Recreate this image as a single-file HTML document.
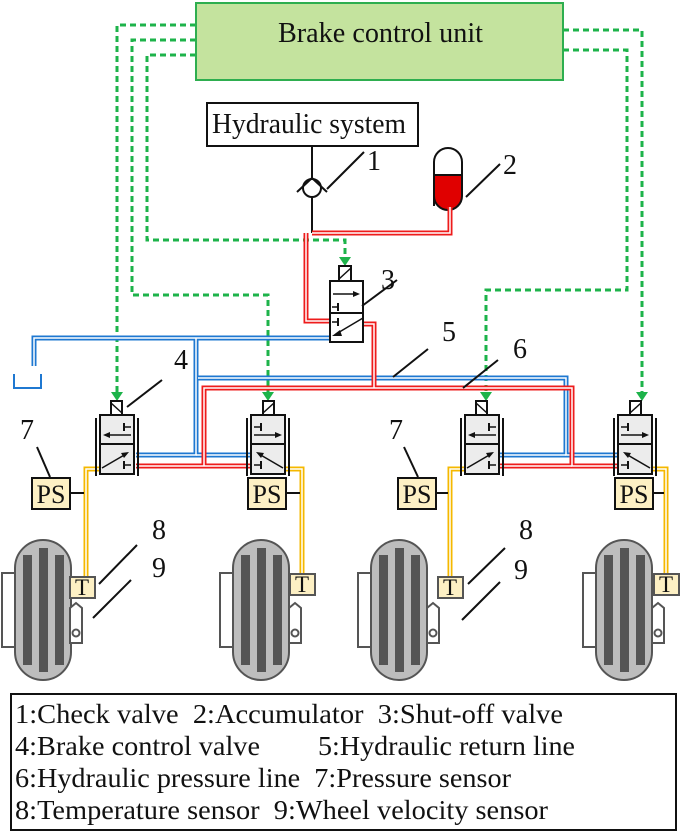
<!DOCTYPE html>
<html><head><meta charset="utf-8"><style>
html,body{margin:0;padding:0;background:#fff;}
svg{display:block;}
text{font-family:"Liberation Serif",serif;fill:#111;}
</style></head><body>
<svg width="685" height="836" viewBox="0 0 685 836" xmlns="http://www.w3.org/2000/svg">
<defs>
<g id="valveL">
  <rect x="0" y="0" width="34" height="59" fill="#ececec" stroke="#111" stroke-width="2"/>
  <line x1="0" y1="29" x2="34" y2="29" stroke="#111" stroke-width="2"/>
  <rect x="11" y="-14" width="11" height="14" fill="#fff" stroke="#111" stroke-width="2"/>
  <line x1="11" y1="-12" x2="22" y2="-2" stroke="#111" stroke-width="1.5"/>
  <line x1="-4" y1="3" x2="-4" y2="61" stroke="#111" stroke-width="2"/>
  <line x1="38" y1="3" x2="38" y2="61" stroke="#111" stroke-width="2"/>
  <line x1="24" y1="12" x2="31" y2="12" stroke="#111" stroke-width="1.5"/>
  <line x1="24" y1="8" x2="24" y2="16" stroke="#111" stroke-width="2"/>
  <line x1="31" y1="20" x2="6" y2="20" stroke="#111" stroke-width="1.5"/>
  <polygon points="3,20 10,17 10,23" fill="#111"/>
  <line x1="2" y1="53" x2="26" y2="39" stroke="#111" stroke-width="1.5"/>
  <polygon points="29,37 21,38 24,43" fill="#111"/>
  <line x1="24" y1="50" x2="31" y2="50" stroke="#111" stroke-width="1.5"/>
  <line x1="24" y1="46" x2="24" y2="54" stroke="#111" stroke-width="2"/>
</g>
<g id="valveR">
  <rect x="0" y="0" width="34" height="59" fill="#ececec" stroke="#111" stroke-width="2"/>
  <line x1="0" y1="29" x2="34" y2="29" stroke="#111" stroke-width="2"/>
  <rect x="12" y="-14" width="11" height="14" fill="#fff" stroke="#111" stroke-width="2"/>
  <line x1="12" y1="-2" x2="23" y2="-12" stroke="#111" stroke-width="1.5"/>
  <line x1="-4" y1="3" x2="-4" y2="61" stroke="#111" stroke-width="2"/>
  <line x1="38" y1="3" x2="38" y2="61" stroke="#111" stroke-width="2"/>
  <line x1="3" y1="12" x2="10" y2="12" stroke="#111" stroke-width="1.5"/>
  <line x1="10" y1="8" x2="10" y2="16" stroke="#111" stroke-width="2"/>
  <line x1="3" y1="20" x2="28" y2="20" stroke="#111" stroke-width="1.5"/>
  <polygon points="31,20 24,17 24,23" fill="#111"/>
  <line x1="32" y1="53" x2="8" y2="39" stroke="#111" stroke-width="1.5"/>
  <polygon points="5,37 13,38 10,43" fill="#111"/>
  <line x1="3" y1="50" x2="10" y2="50" stroke="#111" stroke-width="1.5"/>
  <line x1="10" y1="46" x2="10" y2="54" stroke="#111" stroke-width="2"/>
</g>
<g id="wheel">
  <rect x="-13" y="33" width="14" height="74" fill="#fff" stroke="#555" stroke-width="2"/>
  <rect x="0" y="0" width="56" height="140" rx="28" ry="28" fill="#bdbdbd" stroke="#555" stroke-width="2"/>
  <rect x="8" y="15" width="9" height="110" fill="#555"/>
  <rect x="24" y="8" width="9" height="124" fill="#555"/>
  <rect x="40" y="15" width="9" height="110" fill="#555"/>
</g>
</defs>

<g fill="none" stroke="#1db34a" stroke-width="3" stroke-dasharray="6,4">
  <polyline points="196,25 117,25 117,396"/>
  <polyline points="196,40 132,40 132,295 268,295 268,396"/>
  <polyline points="196,55 147,55 147,240 345,240 345,258"/>
  <polyline points="563,30 642,30 642,396"/>
  <polyline points="563,50 627,50 627,290 486,290 486,396"/>
</g>
<g fill="#1db34a">
  <polygon points="111,392 123,392 117,401"/>
  <polygon points="262,392 274,392 268,401"/>
  <polygon points="339,257 351,257 345,266"/>
  <polygon points="480,392 492,392 486,401"/>
  <polygon points="636,392 648,392 642,401"/>
</g>

<rect x="196" y="3" width="367" height="77" fill="#c4e39e" stroke="#2eae4f" stroke-width="2"/>
<text x="278" y="42" font-size="28" textLength="205" lengthAdjust="spacingAndGlyphs">Brake control unit</text>

<rect x="207" y="103" width="211" height="43" fill="#fff" stroke="#111" stroke-width="2"/>
<text x="212" y="133" font-size="28" textLength="194" lengthAdjust="spacingAndGlyphs">Hydraulic system</text>
<line x1="312" y1="146" x2="312" y2="233" stroke="#111" stroke-width="2"/>
<circle cx="312" cy="188" r="9" fill="#fff" stroke="#111" stroke-width="2"/>
<polyline points="297,192 312,178 327,192" fill="none" stroke="#111" stroke-width="2"/>
<line x1="327" y1="189" x2="364" y2="152" stroke="#111" stroke-width="2"/>
<text x="367" y="170" font-size="28">1</text>

<path d="M434,175 L462,175 L462,196 A14,14 0 0 1 434,196 Z" fill="#e00000"/>
<path d="M434,206 L434,162 A14,14 0 0 1 462,162 L462,196 A14,14 0 0 1 434,196 Z" fill="none" stroke="#111" stroke-width="2"/>
<line x1="434" y1="175" x2="462" y2="175" stroke="#111" stroke-width="2"/>
<line x1="466" y1="197" x2="500" y2="164" stroke="#111" stroke-width="2"/>
<text x="503" y="174" font-size="28">2</text>

<g fill="none" stroke-linejoin="miter">
  <g stroke="#1f78d1" stroke-width="5">
    <polyline points="330,338 34,338 34,366"/>
    <polyline points="196,338 196,455 136,455"/>
    <polyline points="196,455 250,455"/>
    <polyline points="198,378 566,378 566,455 617,455"/>
    <polyline points="498,455 566,455"/>
  </g>
  <g stroke="#fff" stroke-width="1.5">
    <polyline points="330,338 34,338 34,366"/>
    <polyline points="196,338 196,455 136,455"/>
    <polyline points="196,455 250,455"/>
    <polyline points="198,378 566,378 566,455 617,455"/>
    <polyline points="498,455 566,455"/>
  </g>
  <g stroke="#ee1c1c" stroke-width="5">
    <polyline points="312,233 450,233 450,207"/>
    <polyline points="306,233 306,321 330,321"/>
    <polyline points="363,324 374,324 374,388"/>
    <polyline points="204,466 204,388 572,388 572,466 617,466"/>
    <polyline points="136,466 250,466"/>
    <polyline points="498,466 572,466"/>
  </g>
  <g stroke="#fff" stroke-width="1.5">
    <polyline points="312,233 450,233 450,207"/>
    <polyline points="306,233 306,321 330,321"/>
    <polyline points="363,324 374,324 374,388"/>
    <polyline points="204,466 204,388 572,388 572,466 617,466"/>
    <polyline points="136,466 250,466"/>
    <polyline points="498,466 572,466"/>
  </g>
  <g stroke="#f5b800" stroke-width="5">
    <polyline points="100,469 86,469 86,577"/>
    <polyline points="286,469 302,469 302,574"/>
    <polyline points="465,469 450,469 450,577"/>
    <polyline points="651,469 666,469 666,574"/>
  </g>
  <g stroke="#fff" stroke-width="1.5">
    <polyline points="100,469 86,469 86,577"/>
    <polyline points="286,469 302,469 302,574"/>
    <polyline points="465,469 450,469 450,577"/>
    <polyline points="651,469 666,469 666,574"/>
  </g>
</g>
<polyline points="14,374 14,388 41,388 41,374" fill="none" stroke="#1f78d1" stroke-width="2"/>

<rect x="330" y="281" width="33" height="61" fill="#fff" stroke="#111" stroke-width="2"/>
<line x1="330" y1="313" x2="363" y2="313" stroke="#111" stroke-width="2"/>
<rect x="339" y="266" width="12" height="15" fill="#fff" stroke="#111" stroke-width="2"/>
<line x1="339" y1="279" x2="351" y2="268" stroke="#111" stroke-width="1.5"/>
<line x1="333" y1="294" x2="356" y2="294" stroke="#111" stroke-width="1.5"/>
<polygon points="360,294 353,291 353,297" fill="#111"/>
<line x1="332" y1="307" x2="338" y2="307" stroke="#111" stroke-width="1.5"/>
<line x1="338" y1="303" x2="338" y2="311" stroke="#111" stroke-width="2"/>
<line x1="332" y1="322" x2="338" y2="322" stroke="#111" stroke-width="1.5"/>
<line x1="338" y1="318" x2="338" y2="326" stroke="#111" stroke-width="2"/>
<line x1="363" y1="318" x2="336" y2="334" stroke="#111" stroke-width="1.5"/>
<polygon points="332,336 340,330 342,336" fill="#111"/>
<line x1="362" y1="306" x2="397" y2="280" stroke="#111" stroke-width="2"/>
<text x="381" y="289" font-size="28">3</text>

<line x1="393" y1="377" x2="428" y2="349" stroke="#111" stroke-width="2"/>
<text x="442" y="341" font-size="28">5</text>
<line x1="463" y1="388" x2="498" y2="360" stroke="#111" stroke-width="2"/>
<text x="513" y="358" font-size="28">6</text>

<use href="#valveL" x="100" y="415"/>
<use href="#valveR" x="251" y="415"/>
<use href="#valveL" x="465" y="415"/>
<use href="#valveR" x="618" y="415"/>
<line x1="127" y1="407" x2="162" y2="380" stroke="#111" stroke-width="2"/>
<text x="174" y="369" font-size="28">4</text>

<g stroke="#111" stroke-width="2">
  <line x1="37" y1="447" x2="50" y2="477"/>
  <line x1="404" y1="447" x2="418" y2="477"/>
  <line x1="70" y1="493" x2="84" y2="493"/>
  <line x1="286" y1="493" x2="300" y2="493"/>
  <line x1="436" y1="493" x2="448" y2="493"/>
  <line x1="653" y1="493" x2="664" y2="493"/>
</g>
<text x="20" y="439" font-size="28">7</text>
<text x="389" y="439" font-size="28">7</text>
<g fill="#fdf0c4" stroke="#111" stroke-width="2">
  <rect x="32" y="478" width="38" height="31"/>
  <rect x="248" y="478" width="38" height="31"/>
  <rect x="398" y="478" width="38" height="31"/>
  <rect x="615" y="478" width="38" height="31"/>
</g>
<g font-size="26" text-anchor="middle">
  <text x="51" y="503">PS</text>
  <text x="267" y="503">PS</text>
  <text x="417" y="503">PS</text>
  <text x="634" y="503">PS</text>
</g>

<use href="#wheel" x="15" y="540"/>
<use href="#wheel" x="233" y="540"/>
<use href="#wheel" x="371" y="540"/>
<use href="#wheel" x="596" y="540"/>
<g fill="#fff" stroke="#555" stroke-width="2">
  <path d="M70,643 L70,608 L76,603 L82,608 L82,643 Z"/>
  <path d="M289,643 L289,608 L295,603 L301,608 L301,643 Z"/>
  <path d="M427,643 L427,608 L433,603 L439,608 L439,643 Z"/>
  <path d="M652,643 L652,608 L658,603 L664,608 L664,643 Z"/>
  <circle cx="76" cy="633" r="3.5"/>
  <circle cx="295" cy="633" r="3.5"/>
  <circle cx="433" cy="633" r="3.5"/>
  <circle cx="658" cy="633" r="3.5"/>
</g>
<g fill="#fdf0c4" stroke="#555" stroke-width="2">
  <rect x="70" y="577" width="25" height="21"/>
  <rect x="290" y="574" width="25" height="21"/>
  <rect x="438" y="577" width="25" height="21"/>
  <rect x="654" y="574" width="25" height="21"/>
</g>
<g font-size="23" text-anchor="middle">
  <text x="82" y="595">T</text>
  <text x="302" y="592">T</text>
  <text x="450" y="595">T</text>
  <text x="666" y="592">T</text>
</g>
<g stroke="#111" stroke-width="2">
  <line x1="99" y1="584" x2="137" y2="545"/>
  <line x1="93" y1="618" x2="131" y2="580"/>
  <line x1="468" y1="584" x2="505" y2="548"/>
  <line x1="462" y1="620" x2="500" y2="582"/>
</g>
<text x="152" y="539" font-size="28">8</text>
<text x="152" y="577" font-size="28">9</text>
<text x="519" y="539" font-size="28">8</text>
<text x="514" y="579" font-size="28">9</text>

<rect x="11" y="694" width="665" height="136" fill="#fff" stroke="#111" stroke-width="2"/>
<g font-size="27">
  <text x="15" y="723" textLength="548" lengthAdjust="spacingAndGlyphs">1:Check valve&#160;&#160;2:Accumulator&#160;&#160;3:Shut-off valve</text>
  <text x="15" y="755" textLength="245" lengthAdjust="spacingAndGlyphs">4:Brake control valve</text>
  <text x="318" y="755" textLength="257" lengthAdjust="spacingAndGlyphs">5:Hydraulic return line</text>
  <text x="15" y="787" textLength="496" lengthAdjust="spacingAndGlyphs">6:Hydraulic pressure line&#160;&#160;7:Pressure sensor</text>
  <text x="15" y="819" textLength="533" lengthAdjust="spacingAndGlyphs">8:Temperature sensor&#160;&#160;9:Wheel velocity sensor</text>
</g>
</svg>
</body></html>
